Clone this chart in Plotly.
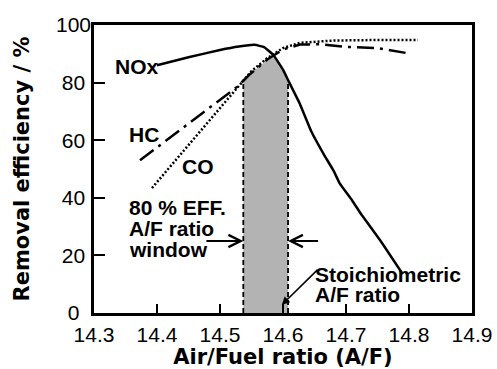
import numpy as np
import plotly.graph_objects as go

# ---------------- data ----------------
nox_x = [14.40, 14.45, 14.50, 14.53, 14.555, 14.57, 14.585, 14.60, 14.61, 14.627,
         14.645, 14.665, 14.68, 14.69, 14.71, 14.725, 14.755, 14.79]
nox_y = [86, 88.8, 91.3, 92.5, 93.1, 92.3, 89.5, 84.5, 80, 72.5,
         63, 55, 49.5, 45, 39, 34, 25, 13.5]

hc_x = [14.373, 14.45, 14.50, 14.527, 14.548, 14.575, 14.60, 14.627, 14.66, 14.70, 14.75, 14.795]
hc_y = [53, 65.8, 74, 78.5, 83, 88, 91.5, 93.2, 93.3, 92.4, 92, 90.3]

co_x = [14.392, 14.463, 14.532, 14.55, 14.575, 14.60, 14.627, 14.68, 14.75, 14.814]
co_y = [43.4, 61.5, 79.2, 84, 88.5, 92, 93.8, 94.6, 94.8, 94.8]

window = [14.537, 14.608]          # 80 % efficiency A/F window
stoich = [14.598, 2.8]             # stoichiometric arrow tip
x_ticks = [14.3, 14.4, 14.5, 14.6, 14.7, 14.8, 14.9]
y_ticks = [0, 20, 40, 60, 80, 100]
y_ticktext = ["0\u2007", "20\u2008", "40\u2008", "60\u2008", "80\u2008", "100"]

# ---------------- styles ----------------
FONT = "Liberation Sans, Arial, Helvetica, sans-serif"
TITLE_FONT = "DejaVu Sans, sans-serif"
BLACK = "#000000"

fig = go.Figure()

# shaded window under the lowest curve
xs = np.linspace(window[0], window[1], 40)
top = np.minimum.reduce([np.interp(xs, co_x, co_y),
                         np.interp(xs, hc_x, hc_y),
                         np.interp(xs, nox_x, nox_y)])
fig.add_trace(go.Scatter(
    x=np.concatenate([[window[0]], xs, [window[1]]]),
    y=np.concatenate([[0], top, [0]]),
    fill="toself", fillcolor="#b3b3b3", line=dict(width=0),
    mode="lines", hoverinfo="skip", showlegend=False))

# dashed window borders
for wx, wy in [(window[0], top[0]), (window[1], top[-1])]:
    fig.add_trace(go.Scatter(x=[wx, wx], y=[0, wy], mode="lines",
                             line=dict(color=BLACK, width=1.8, dash="5px,3px"),
                             showlegend=False))

fig.add_trace(go.Scatter(x=co_x, y=co_y, mode="lines", name="CO",
                         line=dict(color=BLACK, width=2.5, dash="2px,2px"),
                         showlegend=False))
fig.add_trace(go.Scatter(x=hc_x, y=hc_y, mode="lines", name="HC",
                         line=dict(color=BLACK, width=2.5, dash="17px,6px,3px,6px"),
                         showlegend=False))
fig.add_trace(go.Scatter(x=nox_x, y=nox_y, mode="lines", name="NOx",
                         line=dict(color=BLACK, width=2.5, shape="spline", smoothing=0.3),
                         showlegend=False))

ann_font = dict(family=FONT, size=21, color=BLACK)
labels = [
    ("<b>NOx</b>", 14.406, 85.5, "right"),
    ("<b>HC</b>", 14.352, 62.0, "left"),
    ("<b>CO</b>", 14.437, 51.0, "left"),
    ("<b>80 % EFF.</b>", 14.352, 36.8, "left"),
    ("<b>A/F ratio</b>", 14.352, 29.2, "left"),
    ("<b>window</b>", 14.352, 22.2, "left"),
    ("<b>Stoichiometric</b>", 14.648, 13.3, "left"),
    ("<b>A/F ratio</b>", 14.648, 6.5, "left"),
]
for txt, x, y, anchor in labels:
    fig.add_annotation(x=x, y=y, text=txt, showarrow=False, xanchor=anchor,
                       yanchor="middle", font=ann_font)

tiny = dict(size=1, color=BLACK)
# window arrows
fig.add_annotation(x=window[0], y=25, ax=14.476, ay=25, axref="x", ayref="y",
                   text="", font=tiny, showarrow=True, arrowhead=5, arrowsize=1.2,
                   arrowwidth=2, arrowcolor=BLACK)
fig.add_annotation(x=window[1], y=25, ax=14.658, ay=25, axref="x", ayref="y",
                   text="", font=tiny, showarrow=True, arrowhead=5, arrowsize=1.2,
                   arrowwidth=2, arrowcolor=BLACK)
# stoichiometric arrow
fig.add_annotation(x=stoich[0], y=stoich[1], ax=14.657, ay=15.5, axref="x", ayref="y",
                   text="", font=tiny, showarrow=True, arrowhead=2, arrowsize=1,
                   arrowwidth=1.6, arrowcolor=BLACK, standoff=0)

axis_common = dict(showline=True, linewidth=2.5, linecolor=BLACK, mirror=True,
                   ticks="inside", tickwidth=2, tickcolor=BLACK, showgrid=False,
                   zeroline=False, automargin=False,
                   tickfont=dict(family=FONT, size=21, color=BLACK))

fig.update_layout(
    width=497, height=369,
    margin=dict(l=94, r=25, t=25, b=56, autoexpand=False),
    paper_bgcolor="white", plot_bgcolor="white",
    xaxis=dict(range=[14.3, 14.9], tickvals=x_ticks,
               ticktext=[f"{v:.1f}" for v in x_ticks], ticklen=9,
               ticklabelstandoff=1,
               title=dict(text="<b>Air/Fuel ratio (A/F)</b>", standoff=4,
                          font=dict(family=TITLE_FONT, size=21, color=BLACK)),
               **axis_common),
    yaxis=dict(range=[0, 100], tickvals=y_ticks, ticktext=y_ticktext, ticklen=11,
               ticklabelstandoff=-4,
               title=dict(text="<b>Removal efficiency / %</b>", standoff=21,
                          font=dict(family=TITLE_FONT, size=21, color=BLACK)),
               **axis_common),
)

fig.write_html("out.html")
